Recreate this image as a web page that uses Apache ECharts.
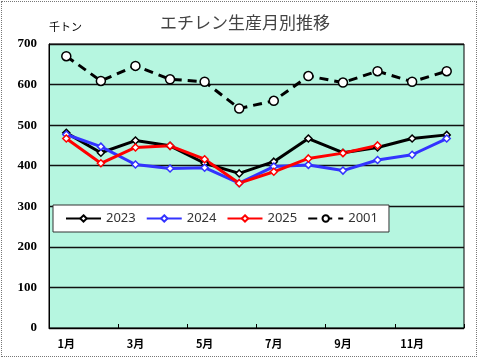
<!DOCTYPE html>
<html><head><meta charset="utf-8">
<script src="https://cdn.jsdelivr.net/npm/echarts@6/dist/echarts.min.js"></script>
<style>html,body{margin:0;padding:0;background:#fff}#c{width:478px;height:358px}
#frame{position:absolute;left:1px;top:1px;width:474px;height:354px;border:1px dotted #777;pointer-events:none}</style>
</head><body><div id="c"></div><div id="frame"></div>
<script>
const categories = ['1月','2月','3月','4月','5月','6月','7月','8月','9月','10月','11月','12月'];
const s2023 = [481, 432, 462, 449, 406, 381, 410, 467, 432, 445, 467, 476];
const s2024 = [477, 447, 403, 393, 395, 357, 398, 402, 388, 414, 427, 467];
const s2025 = [467, 406, 445, 449, 416, 357, 385, 418, 431, 450];
const s2001 = [670, 609, 646, 613, 607, 541, 560, 621, 605, 633, 607, 633];
const yTicks = [0, 100, 200, 300, 400, 500, 600, 700];

const chart = echarts.init(document.getElementById('c'), null, {renderer:'canvas'});
function lineSeries(name, data, color){
  return {name, type:'line', data, symbol:'diamond', symbolSize:7,
    lineStyle:{color, width:3}, itemStyle:{color:'#fff', borderColor:color, borderWidth:1.5},
    z: 3};
}
chart.setOption({
  animation:false,
  title:[{text:'エチレン生産月別推移', left:240, top:9, textAlign:'center',
    textStyle:{fontFamily:'Noto Sans CJK JP', fontSize:17, fontWeight:'normal', color:'#444'}},
    {text:'千トン', left:44, top:16, textStyle:{fontFamily:'Noto Sans CJK JP', fontSize:11, fontWeight:'normal', color:'#000'}}],
  grid:{left:49, right:14, top:44, bottom:30, show:true, backgroundColor:'#b6f6e0', borderColor:'#000', borderWidth:1},
  legend:{left:53, top:205, itemGap:10, padding:[7,11,7,12],
    backgroundColor:'#fff', borderColor:'#333', borderWidth:1,
    itemWidth:35, itemHeight:8,
    textStyle:{fontFamily:'Noto Sans', fontSize:13, color:'#333'},
    data:['2023','2024','2025','2001']},
  xAxis:{type:'category', data:categories, boundaryGap:true,
    axisLine:{lineStyle:{color:'#000', width:1}},
    axisTick:{show:true, inside:true, length:4, lineStyle:{color:'#000'}},
    axisLabel:{interval:1, margin:10, fontFamily:'Noto Sans CJK JP', fontWeight:'bold', fontSize:11, color:'#000'}},
  yAxis:{type:'value', min:0, max:700, interval:100,
    axisLine:{show:true, lineStyle:{color:'#000'}}, axisTick:{show:false},
    splitLine:{lineStyle:{color:'#111', width:1.3}},
    axisLabel:{margin:12, fontFamily:'Liberation Serif', fontWeight:'bold', fontSize:13, color:'#000',
      formatter:v=>yTicks.includes(v)?String(v):''}},
  series:[
    lineSeries('2023', s2023, '#000'),
    lineSeries('2024', s2024, '#3333ff'),
    lineSeries('2025', s2025, '#ff0000'),
    {name:'2001', type:'line', data:s2001, symbol:'circle', symbolSize:9,
      lineStyle:{color:'#000', width:3, type:[9,6]}, itemStyle:{color:'#fff', borderColor:'#000', borderWidth:1.5}, z:3}
  ]
});
</script></body></html>
